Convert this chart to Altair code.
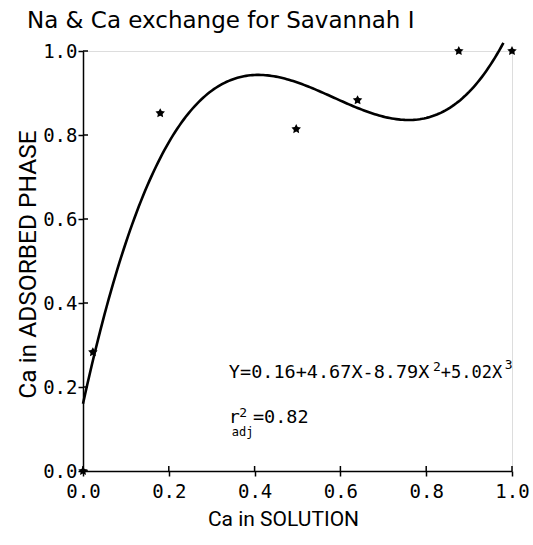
import altair as alt
import pandas as pd

# data points (Ca in solution vs Ca in adsorbed phase)
x_sol = [0.0, 0.023, 0.18, 0.497, 0.64, 0.876, 1.0]
y_ads = [0.0, 0.283, 0.852, 0.814, 0.883, 1.0, 1.0]

# fitted cubic printed on the chart: Y = c0 + c1 X + c2 X^2 + c3 X^3
coef = [0.16, 4.67, -8.79, 5.02]
curve_end = 0.98

tick_vals = [0.0, 0.2, 0.4, 0.6, 0.8, 1.0]

pts = pd.DataFrame({"x": x_sol, "y": y_ads})
ticks = pd.DataFrame({"v": tick_vals})

W, H = 429, 420
FONT_LBL = "DejaVu Sans Mono"
FONT_TTL = "Roboto"

xscale = alt.Scale(domain=[0, 1], nice=False, zero=False)
yscale = alt.Scale(domain=[0, 1], nice=False, zero=False)

xaxis = alt.Axis(values=tick_vals, format=".1f", grid=False, labelFlush=False,
                 title="Ca in SOLUTION", titleFont=FONT_TTL, titleFontSize=21,
                 titleFontWeight="normal", titleColor="black",
                 titleX=200, titleY=54, titleAlign="center", titleBaseline="alphabetic",
                 labelFont=FONT_LBL, labelFontSize=19, labelColor="black", labelPadding=6,
                 domainColor="black", domainWidth=1.5, tickColor="black", tickWidth=1.5, tickSize=5)
yaxis = alt.Axis(values=tick_vals, format=".1f", grid=False, labelFlush=False,
                 title="Ca in ADSORBED PHASE", titleFont=FONT_TTL, titleFontSize=24.5,
                 titleFontWeight="normal", titleColor="black",
                 titleX=-48, titleY=213, titleAlign="center", titleBaseline="alphabetic", titleAngle=270,
                 labelFont=FONT_LBL, labelFontSize=19, labelColor="black", labelPadding=1,
                 domainColor="black", domainWidth=1.5, tickColor="black", tickWidth=1.5, tickSize=5)

expr = (f"{coef[0]} + {coef[1]}*datum.x + ({coef[2]})*pow(datum.x,2) + {coef[3]}*pow(datum.x,3)")
curve = alt.Chart(alt.sequence(0, curve_end + 0.0001, 0.005, as_="x")).transform_calculate(
    y=expr
).mark_line(color="black", strokeWidth=2.6, clip=False).encode(
    x=alt.X("x:Q", scale=xscale, axis=xaxis),
    y=alt.Y("y:Q", scale=yscale, axis=yaxis),
)

star = ("M0,-1 L0.3,-0.42 L0.95,-0.31 L0.48,0.16 L0.59,0.81 L0,0.5 "
        "L-0.59,0.81 L-0.48,0.16 L-0.95,-0.31 L-0.3,-0.42 Z")
points = alt.Chart(pts).mark_point(shape=star, filled=True, color="black", size=100,
                                   opacity=1, clip=False).encode(
    x=alt.X("x:Q", scale=xscale), y=alt.Y("y:Q", scale=yscale))

# inward half of the crossing ticks
yin = alt.Chart(ticks).mark_rule(color="black", strokeWidth=1.5).encode(
    y=alt.Y("v:Q", scale=yscale), x=alt.value(0), x2=alt.value(5))
xin = alt.Chart(ticks).mark_rule(color="black", strokeWidth=1.5).encode(
    x=alt.X("v:Q", scale=xscale), y=alt.value(H), y2=alt.value(H - 5))

one = pd.DataFrame({"a": [0]})

def txt(s, x, y, size):
    return alt.Chart(one).mark_text(
        text=s, font="DejaVu Sans Mono", fontSize=size, align="left",
        baseline="alphabetic", color="black").encode(
        x=alt.datum(x, scale=xscale), y=alt.datum(y, scale=yscale))

ann = [
    txt("Y=0.16+4.67X-8.79X", 0.340, 0.221, 18.5),
    txt("2", 0.816, 0.238, 13),
    txt("+5.02X", 0.834, 0.221, 17),
    txt("3", 0.983, 0.242, 13),
    txt("r", 0.340, 0.114, 18.5),
    txt("2", 0.364, 0.128, 13),
    txt("adj", 0.347, 0.083, 12),
    txt("=0.82", 0.396, 0.114, 18.5),
]

title = alt.Chart(one).mark_text(
    text="Na & Ca exchange for Savannah I", font="DejaVu Sans", fontSize=23,
    align="left", baseline="alphabetic", color="black").encode(
    x=alt.value(-56), y=alt.value(-23))

chart = alt.layer(curve, points, yin, xin, title, *ann).properties(
    width=W, height=H,
    autosize=alt.AutoSizeParams(type="none"),
    padding={"left": 83, "top": 51, "right": 21, "bottom": 74},
).configure_view(stroke=None).configure(background="white")

chart.save("out.html", embed_options={"renderer": "svg", "actions": False})
